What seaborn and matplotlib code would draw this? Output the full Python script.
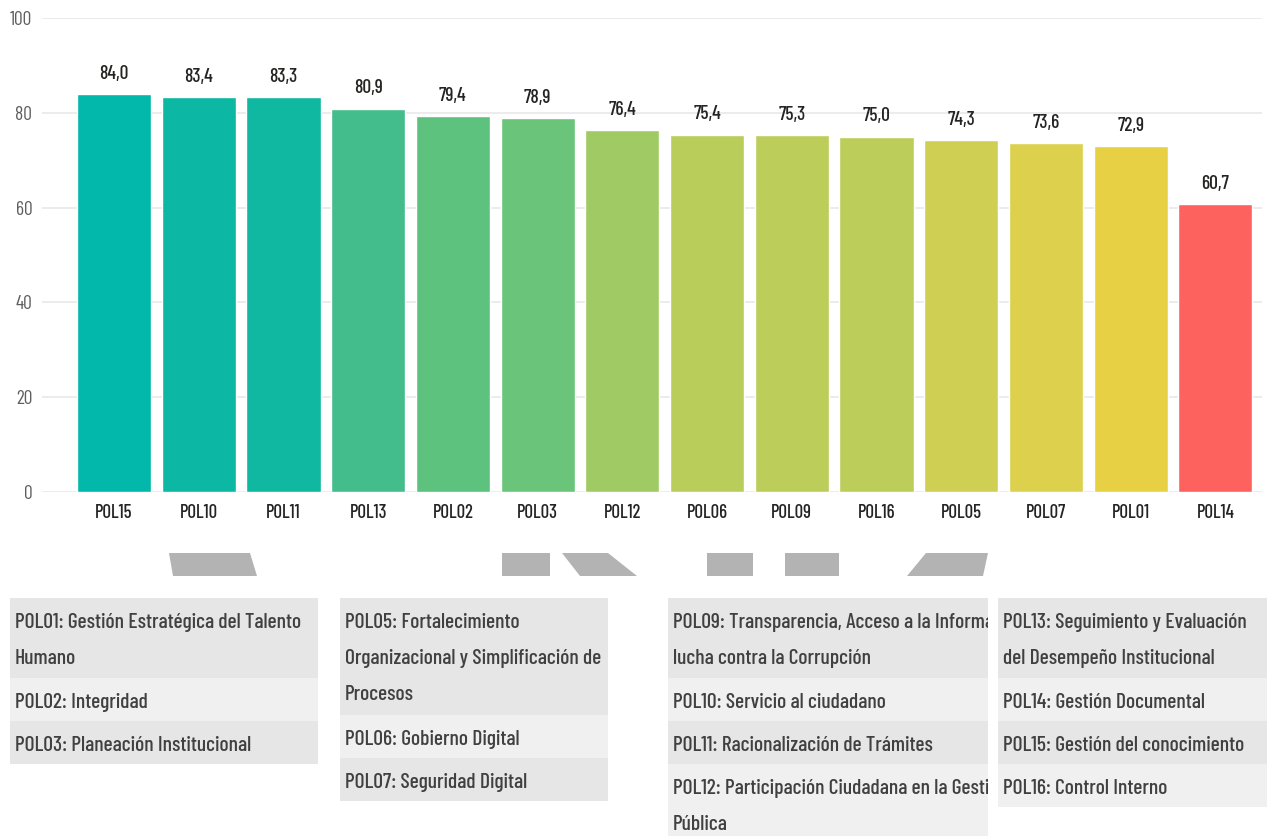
import pandas as pd
import matplotlib
matplotlib.use("Agg")
import matplotlib.pyplot as plt
import seaborn as sns
from matplotlib.patches import Rectangle, Polygon

# Datos del gráfico
politicas = ["POL15", "POL10", "POL11", "POL13", "POL02", "POL03", "POL12",
             "POL06", "POL09", "POL16", "POL05", "POL07", "POL01", "POL14"]
puntajes = [84.0, 83.4, 83.3, 80.9, 79.4, 78.9, 76.4, 75.4, 75.3, 75.0, 74.3, 73.6, 72.9, 60.7]
colores = ["#01b8aa", "#0cb8a3", "#10b8a1", "#43bd8b", "#5ec27f", "#6ac57a", "#a0cb64",
           "#b9cd5b", "#bccd5a", "#bdcd5a", "#cfcf53", "#dcd04c", "#e8d045", "#fd625e"]
y_ticks = [0, 20, 40, 60, 80, 100]

# Tablas de la leyenda (una lista por columna)
leyenda_1 = ["POL01: Gestión Estratégica del Talento\nHumano",
             "POL02: Integridad",
             "POL03: Planeación Institucional"]
leyenda_2 = ["POL05: Fortalecimiento\nOrganizacional y Simplificación de\nProcesos",
             "POL06: Gobierno Digital",
             "POL07: Seguridad Digital"]
leyenda_3 = ["POL09: Transparencia, Acceso a la Información Pública y\nlucha contra la Corrupción",
             "POL10: Servicio al ciudadano",
             "POL11: Racionalización de Trámites",
             "POL12: Participación Ciudadana en la Gestión\nPública"]
leyenda_4 = ["POL13: Seguimiento y Evaluación\ndel Desempeño Institucional",
             "POL14: Gestión Documental",
             "POL15: Gestión del conocimiento",
             "POL16: Control Interno"]

sns.set_theme(style="white")
plt.rcParams["font.family"] = ["Barlow Condensed", "DejaVu Sans"]

W, H = 1269, 836
fig = plt.figure(figsize=(W / 100, H / 100), dpi=100)
fig.patch.set_facecolor("white")

# Gráfico de barras
ax = fig.add_axes([42 / W, 1 - 492 / H, (1262 - 42) / W, (492 - 18) / H])
df = pd.DataFrame({"Politica": politicas, "Puntaje": puntajes})
sns.barplot(data=df, x="Politica", y="Puntaje", hue="Politica", palette=colores,
            legend=False, width=0.875, saturation=1, ax=ax)
for cont in ax.containers:
    ax.bar_label(cont, labels=[f"{b.get_height():.1f}".replace(".", ",") for b in cont],
                 padding=8, fontsize=14, fontweight=500, color="#252423")
ax.set_ylim(0, 100)
ax.set_xlim(-0.85, 13.55)
ax.set_yticks(y_ticks)
ax.yaxis.grid(True, color="#e9e9e9", linewidth=1.2)
ax.set_axisbelow(True)
for s in ax.spines.values():
    s.set_visible(False)
ax.set_xlabel("")
ax.set_ylabel("")
ax.tick_params(axis="y", labelsize=14, labelcolor="#605e5c", pad=7, length=0)
ax.tick_params(axis="x", labelsize=13.5, labelcolor="#252423", pad=9, length=0)
for lab in ax.get_xticklabels():
    lab.set_fontweight(500)

# Formas grises de fondo (marca de agua)
over = fig.add_axes([0, 0, 1, 1], zorder=-1)
over.set_xlim(0, W)
over.set_ylim(H, 0)
over.axis("off")
formas = [
    [(169, 553), (250, 553), (257, 576), (173, 576)],
    [(502, 553), (550, 553), (550, 576), (502, 576)],
    [(562, 553), (608, 553), (637, 576), (580, 576)],
    [(707, 553), (753, 553), (753, 576), (707, 576)],
    [(785, 553), (839, 553), (839, 576), (785, 576)],
    [(926, 553), (988, 553), (983, 576), (907, 576)],
]
for f in formas:
    over.add_patch(Polygon(f, closed=True, facecolor="#b3b3b3", edgecolor="none"))

# Tablas de leyenda
columnas = [(10, 318, leyenda_1), (340, 608, leyenda_2), (668, 988, leyenda_3), (998, 1267, leyenda_4)]
top = 598
for x0, x1, filas in columnas:
    lax = fig.add_axes([x0 / W, 0, (x1 - x0) / W, (H - top) / H])
    lax.set_xlim(0, x1 - x0)
    lax.set_ylim(H - top, 0)
    lax.axis("off")
    y = 0
    for i, txt in enumerate(filas):
        n = txt.count("\n") + 1
        h = 6 + 37 * n
        fondo = "#e6e6e6" if i % 2 == 0 else "#f0f0f0"
        lax.add_patch(Rectangle((0, y), x1 - x0, h, facecolor=fondo, edgecolor="none"))
        for j, linea in enumerate(txt.split("\n")):
            lax.text(5, y + 30 + 36 * j, linea, fontsize=15.5, fontweight=500, color="#404040",
                     va="baseline", ha="left", clip_on=True)
        y += h

fig.savefig("out.png", dpi=100)
